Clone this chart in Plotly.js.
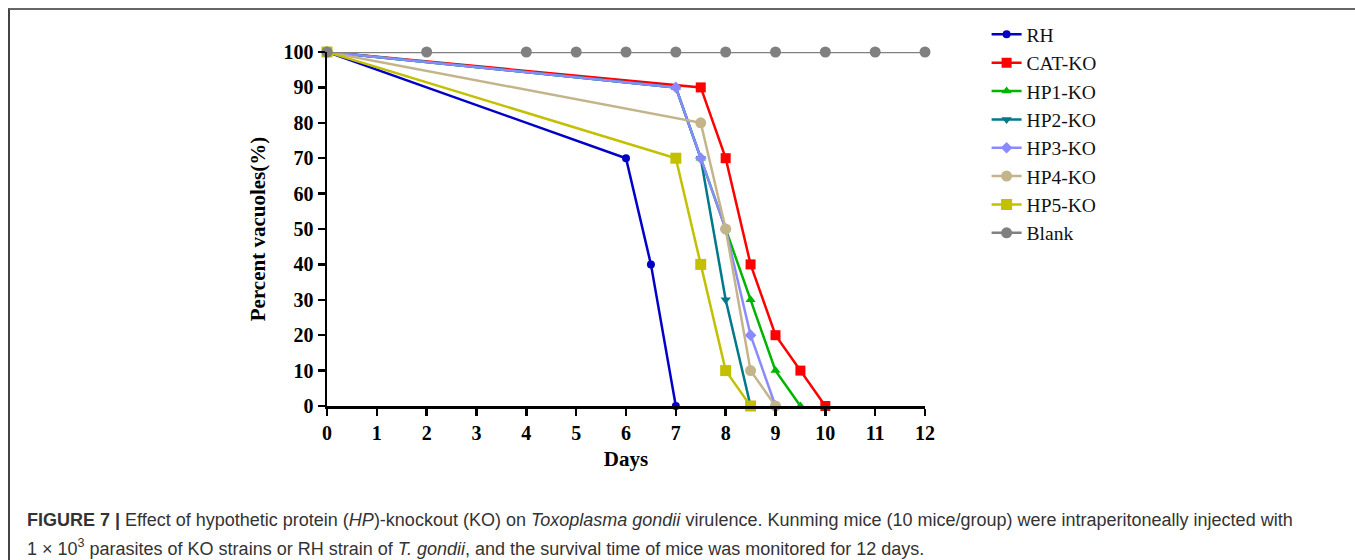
<!DOCTYPE html>
<html><head><meta charset="utf-8">
<script src="https://cdn.plot.ly/plotly-3.0.1.min.js"></script>
<style>
html,body{margin:0;padding:0;background:#fff;overflow:hidden;}
#frame{position:absolute;left:8px;top:8px;width:1400px;height:600px;border-top:2px solid #666;border-left:2px solid #444;pointer-events:none;z-index:5;}
#chart{width:1355px;height:560px;}
</style></head>
<body>
<div id="frame"></div>
<div id="chart"></div>
<script>
const seriesNames = ["RH","CAT-KO","HP1-KO","HP2-KO","HP3-KO","HP4-KO","HP5-KO","Blank"];
const rhDays = [0,6,6.5,7];
const rhVals = [100,70,40,0];
const catDays = [0,7.5,8,8.5,9,9.5,10];
const catVals = [100,90,70,40,20,10,0];
const hp1Days = [0,7,7.5,8,8.5,9,9.5];
const hp1Vals = [100,90,70,50,30,10,0];
const hp2Days = [0,7,7.5,8,8.5];
const hp2Vals = [100,90,70,30,0];
const hp3Days = [0,7,7.5,8,8.5,9];
const hp3Vals = [100,90,70,50,20,0];
const hp4Days = [0,7.5,8,8.5,9];
const hp4Vals = [100,80,50,10,0];
const hp5Days = [0,7,7.5,8,8.5];
const hp5Vals = [100,70,40,10,0];
const blankDays = [0,2,4,5,6,7,8,9,10,11,12];
const blankVals = [100,100,100,100,100,100,100,100,100,100,100];
const xTicks = [0,1,2,3,4,5,6,7,8,9,10,11,12];
const yTicks = [0,10,20,30,40,50,60,70,80,90,100];
const captionLines = [
  "<b>FIGURE 7 |</b> Effect of hypothetic protein (<i>HP</i>)-knockout (KO) on <i>Toxoplasma gondii</i> virulence. Kunming mice (10 mice/group) were intraperitoneally injected with",
  "1 × 10<sup>3</sup> parasites of KO strains or RH strain of <i>T. gondii</i>, and the survival time of mice was monitored for 12 days."
];

const colors = ["#0000c8","#ff0000","#00b400","#00798a","#8a8aff","#c4b48a","#c2c000","#808080"];
const symbols = ["circle","square","triangle-up","triangle-down","diamond","circle","square","circle"];
const sizes = [8,10,9,9,9,11,11,11];
const xs = [rhDays,catDays,hp1Days,hp2Days,hp3Days,hp4Days,hp5Days,blankDays];
const ys = [rhVals,catVals,hp1Vals,hp2Vals,hp3Vals,hp4Vals,hp5Vals,blankVals];

const traces = seriesNames.map((n,i)=>({
  type:"scatter", mode:"lines+markers", name:n, x:xs[i], y:ys[i],
  line:{color:colors[i], width:2.5},
  marker:{color:colors[i], symbol:symbols[i], size:sizes[i]},
  cliponaxis:false
}));

const serif = "Liberation Serif, Times New Roman, serif";
const capY = [-0.322, -0.401];
const layout = {
  width:1355, height:560,
  margin:{l:327, r:430, t:52, b:154},
  paper_bgcolor:"#fff", plot_bgcolor:"#fff",
  showlegend:true,
  legend:{x:1.103, xanchor:"left", y:1.104, yanchor:"top",
    font:{family:serif, size:19.5, color:"#111"}, tracegroupgap:0, itemwidth:30,
    bgcolor:"rgba(0,0,0,0)"},
  xaxis:{range:[0,12], tickvals:xTicks, ticktext:xTicks.map(String),
    showgrid:false, zeroline:false, showline:true, linecolor:"#000", linewidth:2.5,
    ticks:"outside", ticklen:7, tickwidth:2.5, tickcolor:"#000",
    tickfont:{family:serif, size:20, color:"#000", weight:"bold"},
    title:{text:"<b>Days</b>", font:{family:serif, size:21, color:"#000"}, standoff:9}},
  yaxis:{range:[0,100], tickvals:yTicks, ticktext:yTicks.map(String),
    showgrid:false, zeroline:false, showline:true, linecolor:"#000", linewidth:2.5,
    ticks:"outside", ticklen:7, tickwidth:2.5, tickcolor:"#000",
    tickfont:{family:serif, size:20, color:"#000", weight:"bold"},
    title:{text:"<b>Percent vacuoles(%)</b>", font:{family:serif, size:21, color:"#000"}, standoff:12}},
  annotations: captionLines.map((t,i)=>({
    xref:"paper", yref:"paper", x:-0.505, y:capY[i], xanchor:"left", yanchor:"middle", align:"left",
    showarrow:false,
    font:{family:"Liberation Sans, Arial, sans-serif", size:18, color:"#333"},
    text:t
  }))
};
Plotly.newPlot("chart", traces, layout, {displayModeBar:false, staticPlot:true});
</script>
</body></html>
